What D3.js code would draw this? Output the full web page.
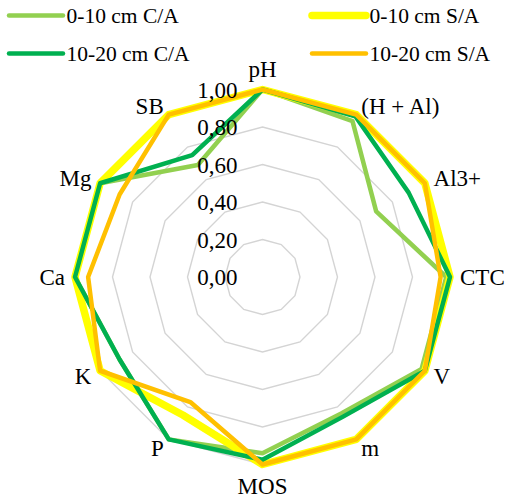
<!DOCTYPE html>
<html lang="pt">
<head>
<meta charset="UTF-8">
<title>Radar - atributos do solo</title>
<script src="https://d3js.org/d3.v7.min.js"></script>
<style>
    body { margin: 0; background: #fff; }
    svg text { font-family: "Liberation Serif", "Times New Roman", serif; fill: #000; }
</style>
</head>
<body>
<div id="chart"></div>
<script>
const width = 508;
const height = 502;

// axes, clockwise from the top
const axes = ["pH", "(H + Al)", "Al3+", "CTC", "V", "m", "MOS", "P", "K", "Ca", "Mg", "SB"];

// relative values (0-1) per axis
const ca0_10  = [1.00, 0.96, 0.70, 0.98, 0.98, 0.84, 0.94, 1.00, 0.88, 1.00, 1.00, 0.69];
const sa0_10  = [1.00, 1.00, 1.00, 1.00, 1.00, 1.00, 1.00, 0.85, 1.00, 1.00, 1.00, 1.00];
const ca10_20 = [1.00, 0.99, 0.90, 1.00, 1.00, 0.86, 0.975, 1.00, 0.88, 1.00, 1.00, 0.75];
const sa10_20 = [1.00, 1.00, 1.00, 0.95, 1.00, 1.00, 1.00, 0.77, 1.00, 0.93, 0.88, 1.00];

const seriesNames = ["0-10 cm C/A", "0-10 cm S/A", "10-20 cm C/A", "10-20 cm S/A"];
const ticks = [0, 0.2, 0.4, 0.6, 0.8, 1.0];

// drawing order = legend order (row by row)
const series = [
    { name: seriesNames[0], values: ca0_10,  color: "#92D050", width: 4.5 },
    { name: seriesNames[1], values: sa0_10,  color: "#FFFF00", width: 7.5 },
    { name: seriesNames[2], values: ca10_20, color: "#00B050", width: 4.5 },
    { name: seriesNames[3], values: sa10_20, color: "#FFC000", width: 4.5 }
];

const cx = 262.5, cy = 277;
const r = d3.scaleLinear().domain([0, 1]).range([0, 187.5]);
const angle = d3.scaleLinear().domain([0, axes.length]).range([0, 2 * Math.PI]);

const fmt = d3.formatLocale({ decimal: ",", thousands: ".", grouping: [3], currency: ["", ""] }).format(".2f");

const svg = d3.select("#chart")
    .append("svg")
    .attr("width", width)
    .attr("height", height);

const g = svg.append("g").attr("transform", `translate(${cx},${cy})`);

const radial = d3.lineRadial()
    .angle((d, i) => angle(i))
    .radius(d => r(d))
    .curve(d3.curveLinearClosed);

// grid rings
g.selectAll(".ring")
    .data(ticks.filter(t => t > 0))
    .join("path")
    .attr("class", "ring")
    .attr("d", t => radial(axes.map(() => t)))
    .attr("fill", "none")
    .attr("stroke", "#D4D4D4")
    .attr("stroke-width", 1.4);

// series
g.selectAll(".serie")
    .data(series)
    .join("path")
    .attr("class", "serie")
    .attr("d", d => radial(d.values))
    .attr("fill", "none")
    .attr("stroke", d => d.color)
    .attr("stroke-width", d => d.width)
    .attr("stroke-linejoin", "round");

// value labels along the vertical axis
g.selectAll(".tick")
    .data(ticks)
    .join("text")
    .attr("class", "tick")
    .attr("x", -25)
    .attr("y", t => -r(t))
    .attr("dy", "0.35em")
    .attr("text-anchor", "end")
    .style("font-size", "23px")
    .text(t => fmt(t));

// axis labels
g.selectAll(".axis-label")
    .data(axes)
    .join("text")
    .attr("class", "axis-label")
    .each(function (name, i) {
        const a = angle(i);
        const sx = Math.sin(a), sy = -Math.cos(a);
        const vertical = Math.abs(sx) < 0.01;
        const off = vertical ? 21 : 10;
        d3.select(this)
            .attr("x", sx * (r(1) + off))
            .attr("y", sy * (r(1) + off))
            .attr("dy", "0.35em")
            .attr("text-anchor", vertical ? "middle" : (sx > 0 ? "start" : "end"));
    })
    .style("font-size", "23px")
    .text(d => d);

// legend, two columns
const legend = svg.selectAll(".legend")
    .data(series)
    .join("g")
    .attr("class", "legend")
    .attr("transform", (d, i) => `translate(${i % 2 === 0 ? 9 : 312},${i < 2 ? 15.5 : 53.5})`);

legend.append("line")
    .attr("x1", 0)
    .attr("x2", 54)
    .attr("stroke", d => d.color)
    .attr("stroke-width", d => d.width)
    .attr("stroke-linecap", "round");

legend.append("text")
    .attr("x", 57.5)
    .attr("dy", "0.35em")
    .style("font-size", "21.5px")
    .text(d => d.name);
</script>
</body>
</html>
